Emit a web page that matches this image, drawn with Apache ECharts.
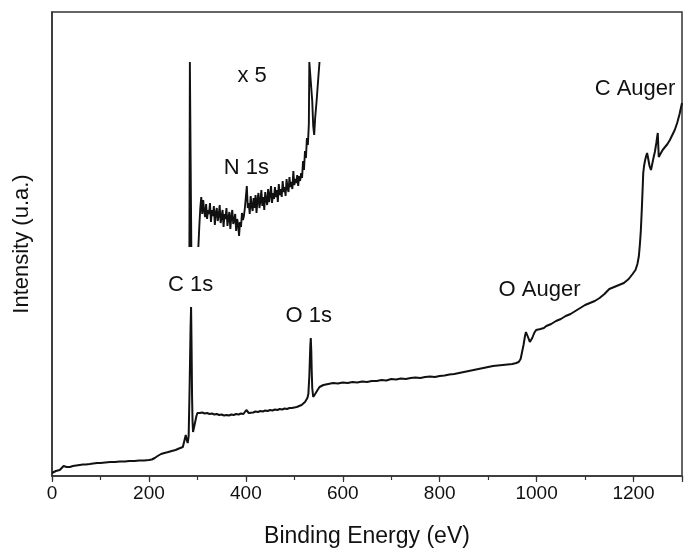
<!DOCTYPE html>
<html><head><meta charset="utf-8">
<script src="https://cdn.jsdelivr.net/npm/echarts/dist/echarts.min.js"></script>
<style>html,body{margin:0;padding:0;background:#fff}#c{width:699px;height:556px}</style>
</head><body><div id="c"></div><script>
// Survey spectrum (binding energy in eV, intensity in arbitrary units)
const mainEnergy = [0,4,8,12,16,20,24,27,30,33,37,43,50,57,64,70,78,85,93,100,110,120,130,140,150,160,170,180,190,200,206,212,218,225,232,240,247,255,262,270,273,276,278,280,282,284,286,287,288,289,290,291,293,295,298,300,302,305,310,315,320,325,330,335,340,345,350,355,360,365,370,375,380,385,390,395,399,401,403,406,410,415,420,425,430,435,440,445,450,455,460,465,470,475,480,485,490,495,500,505,510,515,518,522,525,527,529,531,533,534,535,536,537,539,541,543,545,548,552,556,560,570,580,590,600,610,620,630,640,650,660,670,680,690,700,710,720,730,740,750,760,770,780,790,800,810,820,830,840,850,860,870,880,890,900,910,920,930,940,950,958,963,967,970,973,976,978,980,983,986,988,991,995,999,1002,1008,1015,1020,1030,1040,1050,1060,1070,1080,1090,1100,1110,1120,1130,1140,1150,1160,1170,1180,1190,1198,1204,1208,1211,1213,1215,1217,1219,1220,1222,1224,1226,1228,1230,1233,1236,1239,1242,1244,1247,1250,1252,1255,1260,1265,1270,1275,1280,1285,1290,1295,1300];
const mainIntensity = [3,4,5,6,6,8,10,12,9,8,9,10,10.5,11,11.5,11.5,12,12.5,13,13,13.5,14,14,14.5,14.5,15,15,15.5,15.5,16,16.5,18,20,22,23,24,25,26,27.5,29,31,41,36,33,40,90,150,169,130,80,55,44,46,53,60,63,64,63,63.5,62.5,63,62,62.5,61.5,62,61,61.5,60.5,61,60.5,61.5,61,62,61.5,62.5,62,64,66,64,63,64,63.5,64.5,64,65,64.5,65.5,65,66,65.5,66.5,66,67,66.5,67.5,67,68,68,68.5,69,70,71,72,74,76,78,82,100,130,138,125,104,88,79,80,82,84,86,89,90,91,92,93,92.5,93.5,93,94,93.5,94.5,94,95,95,96,95.5,97,96.5,97.5,97,98,98.5,98,99,99.5,99,100,100.5,101.5,102,103,104,105,106,107,108,109,110,110.5,111,111.5,112,113,114,117,124,131,140,144,142,138,134,134,138,143,146,148,147,148,150,152,155,157,160,162,165,168,171,173,175,178,182,187,189,191,193,197,202,206,212,220,231,245,266,290,303,311,316,320,323,318,310,306,313,320,324,333,343,319,320,326,329,332,336,341,346,353,362,373];
// x5 magnified region, clipped
const insetEnergy = [283.5,284.5,286.5,287.5,295,302,304,306,308,310,312,314,316,318,320,322,324,326,328,330,332,334,336,338,340,342,344,346,348,350,352,354,356,358,360,362,364,366,368,370,372,374,376,378,380,382,384,386,388,390,392,394,396,398,400,402,404,406,408,410,412,414,416,418,420,422,424,426,428,430,432,434,436,438,440,442,444,446,448,450,452,454,456,458,460,462,464,466,468,470,472,474,476,478,480,482,484,486,488,490,492,494,496,498,500,502,504,506,508,510,512,514,516,518,520,522,524,526,528,530,531,535,537,539,541,543,546,549,552];
const insetIntensity = [229,414,414,229,null,229,250,268,279,262,276,265,259,272,257,266,262,273,254,266,260,270,251,263,268,255,261,271,253,259,266,249,262,257,268,250,258,264,247,259,266,252,256,262,245,257,252,240,254,249,263,256,260,268,279,290,268,273,262,280,270,265,278,268,281,263,276,283,268,275,286,270,279,266,284,276,271,287,274,281,290,273,283,277,289,279,286,274,292,281,287,279,295,284,289,280,297,288,284,299,289,294,287,305,291,297,293,301,290,300,295,303,298,315,306,325,318,338,331,352,414,414,375,350,341,358,375,395,414];
const xTickValues = [0,200,400,600,800,1000,1200];
const peakNames = ['C 1s','O 1s','O Auger','C Auger','x 5','N 1s'];
const peakEnergy = [286,530,1006,1203,413,401];
const peakIntensity = [191,160,186,387,400,308];

const font = "'Liberation Sans', Arial, sans-serif";
const chart = echarts.init(document.getElementById('c'), null, {renderer:'canvas'});
const pairs = (xs, ys) => xs.map((x,i) => [x, ys[i] === null ? '-' : ys[i]]);
chart.setOption({
  animation: false,
  backgroundColor: '#fff',
  grid: {left: 52, right: 17, top: 12, bottom: 80, show: true, borderColor: '#333', borderWidth: 1.5, backgroundColor: 'transparent'},
  xAxis: [{
    type: 'value', min: 0, max: 1300, interval: 100,
    name: 'Binding Energy (eV)', nameLocation: 'middle', nameGap: 49,
    nameTextStyle: {fontFamily: font, fontSize: 23, color: '#111'},
    axisLine: {show: true, lineStyle: {color: '#333', width: 1.5}},
    axisTick: {show: true, length: 4, lineStyle: {color: '#333', width: 1.2}},
    axisLabel: {fontFamily: font, fontSize: 19, color: '#111', margin: 8,
      formatter: v => xTickValues.includes(v) ? String(v) : ''},
    splitLine: {show: false}
  }, {
    type: 'value', min: 0, max: 1300, interval: 200, position: 'bottom', gridIndex: 0,
    axisLine: {show: false},
    axisTick: {show: true, length: 6, lineStyle: {color: '#333', width: 1.2}},
    axisLabel: {show: false}, splitLine: {show: false}
  }],
  yAxis: {
    type: 'value', min: 0, max: 464,
    name: 'Intensity (u.a.)', nameLocation: 'middle', nameGap: 19,
    nameTextStyle: {fontFamily: font, fontSize: 22, color: '#111'},
    axisLine: {show: true, lineStyle: {color: '#333', width: 1.5}},
    axisTick: {show: false}, axisLabel: {show: false}, splitLine: {show: false}
  },
  series: [{
    type: 'line', data: pairs(mainEnergy, mainIntensity), symbol: 'none',
    lineStyle: {color: '#111', width: 2}
  }, {
    type: 'line', data: pairs(insetEnergy, insetIntensity), symbol: 'none', connectNulls: false,
    lineStyle: {color: '#111', width: 1.9}
  }]
});
chart.setOption({
  graphic: peakNames.map((n, i) => {
    const p = chart.convertToPixel({xAxisIndex: 0, yAxisIndex: 0}, [peakEnergy[i], peakIntensity[i]]);
    return {type: 'text', x: p[0], y: p[1], silent: true,
      style: {text: n, fill: '#111', font: '22px ' + font, align: 'center', verticalAlign: 'middle'}};
  })
});
</script></body></html>
